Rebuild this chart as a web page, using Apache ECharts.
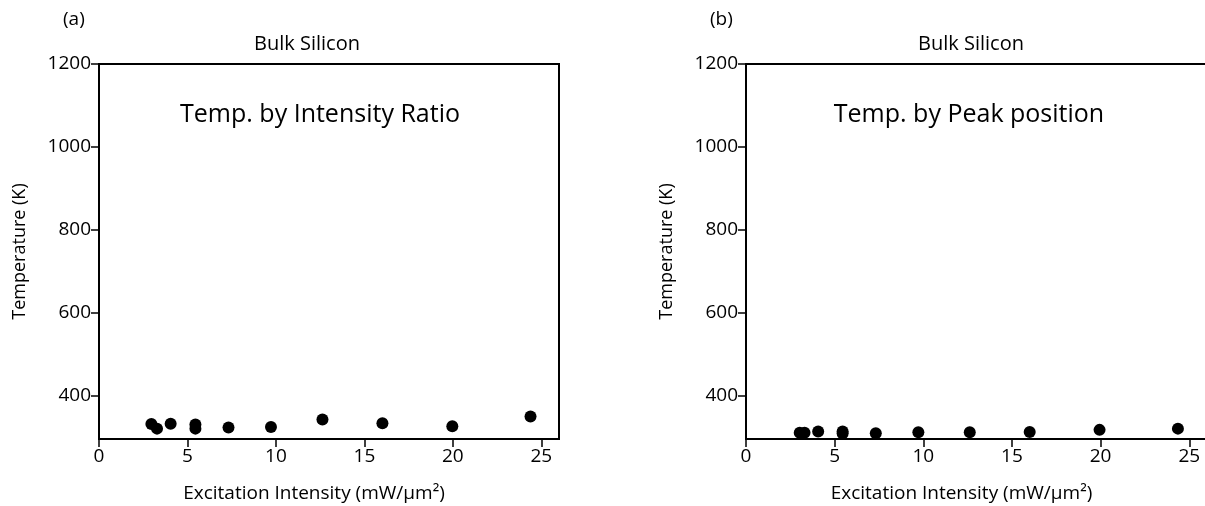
<!DOCTYPE html>
<html>
<head>
<meta charset="utf-8">
<script src="https://cdn.jsdelivr.net/npm/echarts@6/dist/echarts.min.js"></script>
<style>
  html, body { margin: 0; padding: 0; background: #fff; }
  #chart { width: 1205px; height: 506px; }
</style>
</head>
<body>
<div id="chart"></div>
<script>
// Excitation intensity (mW/µm²) and temperature (K) for bulk silicon
const ratioIntensity = [2.96, 3.28, 4.05, 5.45, 5.45, 7.32, 9.72, 12.63, 16.02, 19.97, 24.39];
const ratioTemp      = [332, 321, 333, 331, 321, 324, 325, 343, 334, 327, 350];

const peakIntensity = [3.03, 3.30, 4.07, 5.45, 5.45, 7.32, 9.72, 12.62, 16.0, 19.94, 24.36];
const peakTemp      = [311, 311, 314, 314, 309, 310, 312, 312, 313, 318, 321];

const xTicks = [0, 5, 10, 15, 20, 25];
const yTicks = [400, 600, 800, 1000, 1200];

const panelLabels = ['(a)', '(b)'];
const panelTitles = ['Bulk Silicon', 'Bulk Silicon'];
const insetTitles = ['Temp. by Intensity Ratio', 'Temp. by Peak position'];
const xName = 'Excitation Intensity (mW/µm²)';
const yName = 'Temperature (K)';

const FONT = 'Open Sans';
const BLACK = '#000';

function pairs(xs, ys) { return xs.map((x, i) => [x, ys[i]]); }

function xAxisFor(gridIndex) {
  return {
    type: 'value', gridIndex, min: 0, max: 26,
    name: xName, nameLocation: 'middle', nameGap: 45,
    // extra right padding nudges the centred name slightly left
    nameTextStyle: { fontFamily: FONT, fontSize: 19, color: BLACK, padding: [0, 30, 0, 0] },
    axisLine: { show: true, onZero: false, lineStyle: { color: BLACK, width: 2 } },
    axisTick: { show: true, length: 8, inside: false, customValues: xTicks, lineStyle: { color: BLACK, width: 1.5 } },
    axisLabel: { customValues: xTicks, margin: 8, fontFamily: FONT, fontSize: 19, color: BLACK, formatter: v => String(v) },
    splitLine: { show: false }
  };
}
function yAxisFor(gridIndex) {
  return {
    type: 'value', gridIndex, min: 296, max: 1200,
    name: yName, nameLocation: 'middle', nameGap: 70, nameRotate: 90,
    nameTextStyle: { fontFamily: FONT, fontSize: 18, color: BLACK },
    axisLine: { show: true, onZero: false, lineStyle: { color: BLACK, width: 2 } },
    axisTick: { show: true, length: 8, inside: false, customValues: yTicks, lineStyle: { color: BLACK, width: 1.5 } },
    axisLabel: { customValues: yTicks, margin: 8, fontFamily: FONT, fontSize: 19, color: BLACK, formatter: v => String(v) },
    splitLine: { show: false }
  };
}

const chart = echarts.init(document.getElementById('chart'), null, { renderer: 'canvas' });

const labelStyle = size => ({ fontFamily: FONT, fontSize: size, fontWeight: 'normal', color: BLACK });

const option = {
  backgroundColor: '#fff',
  animation: false,
  title: [
    { text: panelLabels[0], left: 58, top: 5, textStyle: labelStyle(19) },
    { text: panelLabels[1], left: 705, top: 5, textStyle: labelStyle(19) },
    { text: panelTitles[0], left: 302, top: 29, textAlign: 'center', textStyle: labelStyle(20) },
    { text: panelTitles[1], left: 966, top: 29, textAlign: 'center', textStyle: labelStyle(20) },
    { text: insetTitles[0], left: 315, top: 97, textAlign: 'center', textStyle: labelStyle(25) },
    { text: insetTitles[1], left: 964, top: 97, textAlign: 'center', textStyle: labelStyle(25) }
  ],
  grid: [
    { left: 99, top: 64, width: 460, height: 375, outerBoundsMode: 'none', containLabel: false,
      show: true, borderColor: BLACK, borderWidth: 2, backgroundColor: 'transparent' },
    { left: 746, top: 64, width: 461, height: 375, outerBoundsMode: 'none', containLabel: false, show: false }
  ],
  xAxis: [
    xAxisFor(0),
    xAxisFor(1),
    // top edge of panel (b)
    {
      type: 'value', gridIndex: 1, position: 'top', min: 0, max: 26,
      axisLine: { show: true, lineStyle: { color: BLACK, width: 2 } },
      axisTick: { show: false }, axisLabel: { show: false }, splitLine: { show: false }
    }
  ],
  yAxis: [yAxisFor(0), yAxisFor(1)],
  series: [
    {
      type: 'scatter', xAxisIndex: 0, yAxisIndex: 0,
      data: pairs(ratioIntensity, ratioTemp),
      symbol: 'circle', symbolSize: 12,
      itemStyle: { color: BLACK, opacity: 1 }
    },
    {
      type: 'scatter', xAxisIndex: 1, yAxisIndex: 1,
      data: pairs(peakIntensity, peakTemp),
      symbol: 'circle', symbolSize: 12,
      itemStyle: { color: BLACK, opacity: 1 }
    }
  ]
};

chart.setOption(option);
</script>
</body>
</html>
